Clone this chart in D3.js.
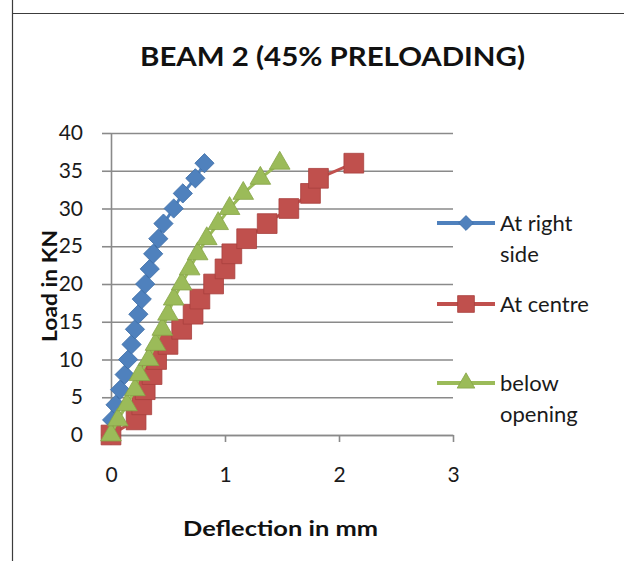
<!DOCTYPE html>
<html>
<head>
<meta charset="utf-8">
<script src="https://cdn.jsdelivr.net/npm/d3@7"></script>
<style>
  html, body { margin: 0; padding: 0; background: #ffffff; }
  svg { display: block; font-family: Lato, "Open Sans", sans-serif; }
</style>
</head>
<body>
<svg id="chart" width="624" height="561"></svg>
<script>
// Load steps (kN) at which deflection was recorded
const loads = [0, 2, 4, 6, 8, 10, 12, 14, 16, 18, 20, 22, 24, 26, 28, 30, 32, 34, 36];

// Deflection (mm) for each gauge position
const rightSide    = [0, 0.01, 0.04, 0.08, 0.12, 0.15, 0.18, 0.21, 0.24, 0.27, 0.30, 0.34, 0.37, 0.415, 0.46, 0.55, 0.63, 0.74, 0.82];
const centre       = [0, 0.22, 0.27, 0.30, 0.36, 0.40, 0.50, 0.62, 0.72, 0.78, 0.90, 1.00, 1.06, 1.19, 1.37, 1.56, 1.75, 1.82, 2.13];
const belowOpening = [0, 0.06, 0.14, 0.21, 0.25, 0.33, 0.39, 0.45, 0.50, 0.55, 0.62, 0.69, 0.76, 0.84, 0.94, 1.04, 1.16, 1.31, 1.48];

const seriesNames  = ["At right side", "At centre", "below opening"];
const legendLines  = [["At right", "side"], ["At centre"], ["below", "opening"]];

const xTicks = [0, 1, 2, 3];
const yTicks = [0, 5, 10, 15, 20, 25, 30, 35, 40];

const titleText  = "BEAM 2 (45% PRELOADING)";
const xAxisTitle = "Deflection in mm";
const yAxisTitle = "Load in KN";

const colors = ["#4F81BD", "#C0504D", "#9BBB59"];
const edgeColors = ["#3f6fa8", "#a8403d", "#86a548"];
// Diamond = square turned 45 degrees
const markerTypes = [d3.symbolSquare, d3.symbolSquare, d3.symbolTriangle];
const markerRotate = [45, 0, 0];
const markerSizes = [185, 390, 185];
const legendMarkerSizes = [110, 280, 135];

const svg = d3.select("#chart");

// Outer frame (left and top edges)
svg.append("line").attr("x1", 12.5).attr("x2", 12.5).attr("y1", 0).attr("y2", 561)
  .attr("stroke", "#3c3c3c").attr("stroke-width", 1.2);
svg.append("line").attr("x1", 12).attr("x2", 624).attr("y1", 13.5).attr("y2", 13.5)
  .attr("stroke", "#3c3c3c").attr("stroke-width", 1.2);

const plot = { left: 111, right: 453, top: 133, bottom: 435 };

const x = d3.scaleLinear().domain([0, 3]).range([plot.left, plot.right]);
const y = d3.scaleLinear().domain([0, 40]).range([plot.bottom, plot.top]);

const gridColor = "#8a8a8a";

// Horizontal gridlines
const grid = svg.append("g")
  .attr("transform", `translate(${plot.left},0)`)
  .call(d3.axisLeft(y).tickValues(yTicks).tickSize(-(plot.right - plot.left)).tickFormat(""));
grid.select(".domain").remove();
grid.selectAll(".tick line").attr("stroke", gridColor).attr("stroke-width", 1.6);

// Y axis with outward ticks and labels
const yAxis = svg.append("g")
  .attr("transform", `translate(${plot.left},0)`)
  .call(d3.axisLeft(y).tickValues(yTicks).tickFormat(d3.format("d"))
    .tickSizeInner(9).tickSizeOuter(0).tickPadding(19));
yAxis.select(".domain").attr("stroke", gridColor).attr("stroke-width", 1.6);
yAxis.selectAll(".tick line").attr("stroke", gridColor).attr("stroke-width", 1.6);
yAxis.selectAll(".tick text")
  .attr("font-family", "Lato, sans-serif").attr("font-size", 21).attr("fill", "#1a1a1a");

// X axis
const xAxis = svg.append("g")
  .attr("transform", `translate(0,${plot.bottom})`)
  .call(d3.axisBottom(x).tickValues(xTicks).tickFormat(d3.format("d"))
    .tickSizeInner(7).tickSizeOuter(0).tickPadding(25));
xAxis.select(".domain").attr("stroke", gridColor).attr("stroke-width", 1.6);
xAxis.selectAll(".tick line").attr("stroke", gridColor).attr("stroke-width", 1.6);
xAxis.selectAll(".tick text")
  .attr("font-family", "Lato, sans-serif").attr("font-size", 21).attr("fill", "#1a1a1a");

// Series: line first, then markers, drawn in order
const allSeries = [rightSide, centre, belowOpening];
const line = d3.line().x(d => x(d.dx)).y(d => y(d.load));

allSeries.forEach((vals, i) => {
  const pts = loads.map((load, k) => ({ load, dx: vals[k] }));
  const g = svg.append("g").attr("class", "series");
  g.append("path").datum(pts)
    .attr("d", line).attr("fill", "none")
    .attr("stroke", colors[i]).attr("stroke-width", 3);
  g.selectAll("path.marker").data(pts).join("path")
    .attr("class", "marker")
    .attr("d", d3.symbol().type(markerTypes[i]).size(markerSizes[i]))
    .attr("transform", d => `translate(${x(d.dx)},${y(d.load)}) rotate(${markerRotate[i]})`)
    .attr("fill", colors[i]).attr("stroke", edgeColors[i]).attr("stroke-width", 0.8);
});

// Legend
const legendY = [223, 304, 383];
const legend = svg.append("g").attr("class", "legend");
seriesNames.forEach((name, i) => {
  const g = legend.append("g").attr("transform", `translate(0,${legendY[i]})`);
  g.append("line").attr("x1", 437).attr("x2", 495).attr("y1", 0).attr("y2", 0)
    .attr("stroke", colors[i]).attr("stroke-width", 4);
  g.append("path")
    .attr("d", d3.symbol().type(markerTypes[i]).size(legendMarkerSizes[i]))
    .attr("transform", `translate(466,0) rotate(${markerRotate[i]})`)
    .attr("fill", colors[i]).attr("stroke", edgeColors[i]).attr("stroke-width", 0.8);
  const t = g.append("text").attr("x", 500).attr("y", 8)
    .attr("font-family", "Lato, sans-serif").attr("font-size", 22).attr("fill", "#1a1a1a");
  legendLines[i].forEach((ln, k) => {
    t.append("tspan").attr("x", 500).attr("dy", k === 0 ? 0 : 31).text(ln);
  });
});

// Titles
svg.append("text").attr("x", 332.5).attr("y", 66).attr("text-anchor", "middle")
  .attr("font-family", "Lato, sans-serif").attr("font-weight", "bold").attr("font-size", 26)
  .attr("textLength", 385).attr("lengthAdjust", "spacingAndGlyphs")
  .attr("fill", "#111").text(titleText);

svg.append("text").attr("x", 280.5).attr("y", 536).attr("text-anchor", "middle")
  .attr("font-family", "Lato, sans-serif").attr("font-weight", "bold").attr("font-size", 21)
  .attr("textLength", 195).attr("lengthAdjust", "spacingAndGlyphs")
  .attr("fill", "#111").text(xAxisTitle);

svg.append("text")
  .attr("transform", "translate(57,286) rotate(-90)")
  .attr("text-anchor", "middle")
  .attr("font-family", "Lato, sans-serif").attr("font-weight", "bold").attr("font-size", 20)
  .attr("textLength", 112).attr("lengthAdjust", "spacingAndGlyphs")
  .attr("fill", "#111").text(yAxisTitle);
</script>
</body>
</html>
